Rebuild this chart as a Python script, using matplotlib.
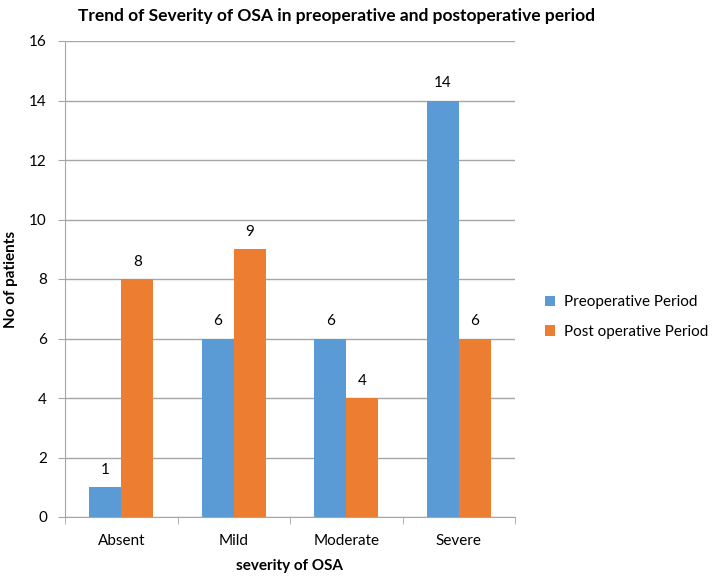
import matplotlib.pyplot as plt
import numpy as np

plt.rcParams['font.family'] = ['Lato', 'DejaVu Sans']

categories = ['Absent', 'Mild', 'Moderate', 'Severe']
preop = [1, 6, 6, 14]
postop = [8, 9, 4, 6]
series_names = ['Preoperative Period', 'Post operative Period']

blue = '#5B9BD5'
orange = '#ED7D31'
grid_col = '#A6A6A6'

fig = plt.figure(figsize=(7.2, 5.84), dpi=100)
ax = fig.add_axes([65/720, 1 - 517/584, 450/720, 476/584])

x = np.arange(len(categories))
w = 1 / 3.5
b1 = ax.bar(x - w/2, preop, w, color=blue, label=series_names[0])
b2 = ax.bar(x + w/2, postop, w, color=orange, label=series_names[1])

for bars, vals in ((b1, preop), (b2, postop)):
    for r, v in zip(bars, vals):
        ax.text(r.get_x() + r.get_width()/2, v + 0.35, str(v),
                ha='center', va='bottom', fontsize=11)

ax.set_xlim(-0.5, 3.5)
ax.set_ylim(0, 16)
ax.set_yticks(range(0, 17, 2))
ax.set_xticks(x)
ax.set_xticklabels(categories, fontsize=11)
ax.set_xticks(np.arange(-0.5, 4.0, 1), minor=True)
ax.tick_params(axis='x', which='major', length=0, pad=12)
ax.tick_params(axis='x', which='minor', length=5, color=grid_col, direction='out')
ax.tick_params(axis='y', length=5, color=grid_col, labelsize=11, pad=8)
ax.yaxis.grid(True, color=grid_col, linewidth=1)
ax.set_axisbelow(True)
for s in ['top', 'right']:
    ax.spines[s].set_visible(False)
for s in ['left', 'bottom']:
    ax.spines[s].set_color(grid_col)

ax.set_xlabel('severity of OSA', fontsize=11, fontweight='bold', labelpad=8)
ax.set_ylabel('No of patients', fontsize=11, fontweight='bold', labelpad=8)
fig.text(78/720, 1 - 16/584, 'Trend of Severity of OSA in preoperative and postoperative period',
         fontsize=12.5, fontweight='bold', va='center', ha='left')

ax.legend(loc='center left', bbox_to_anchor=(1.035, 0.42), frameon=False,
          fontsize=11, handlelength=0.7, handleheight=0.7, labelspacing=1.0,
          handletextpad=0.6)

fig.savefig('out.png', dpi=100)
